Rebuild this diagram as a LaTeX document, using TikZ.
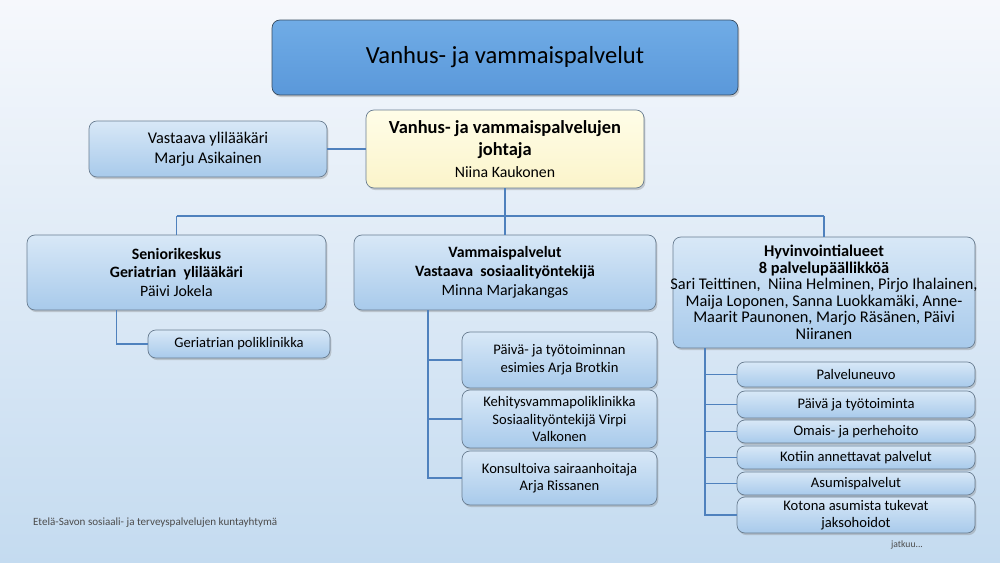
\documentclass[tikz,border=0pt]{standalone}
\usepackage{fontspec}
\setmainfont{Carlito}
\usetikzlibrary{positioning, shadows}
\definecolor{bgtop}{RGB}{246,248,252}
\definecolor{bgbot}{RGB}{196,219,240}
\definecolor{boxtop}{RGB}{216,232,247}
\definecolor{boxbot}{RGB}{168,202,235}
\definecolor{boxline}{RGB}{105,125,145}
\definecolor{titletop}{RGB}{112,172,230}
\definecolor{titlebot}{RGB}{90,152,218}
\definecolor{titleline}{RGB}{55,75,95}
\definecolor{headtop}{RGB}{255,253,232}
\definecolor{headbot}{RGB}{251,244,202}
\definecolor{cline}{RGB}{79,129,189}

\begin{document}
\begin{tikzpicture}[
    x=0.02cm, y=-0.02cm,
    unit/.style={draw=boxline, rounded corners=4.5pt, top color=boxtop, bottom color=boxbot,
        drop shadow={shadow xshift=0.8pt, shadow yshift=-1.2pt, opacity=0.35},
        align=center, inner sep=1pt, text=black},
    subunit/.style={unit, font=\fontsize{8.3}{10}\selectfont},
    link/.style={draw=cline, line width=1.1pt},
]
    % Background
    \useasboundingbox (0,0) rectangle (1000,563);
    \shade[top color=bgtop, bottom color=bgbot] (0,0) rectangle (1000,563);

    % Top level
    \node[unit, top color=titletop, bottom color=titlebot, draw=titleline,
        minimum width=9.32cm, minimum height=1.5cm, font=\fontsize{14}{17}\selectfont]
        (title) at (505,57.5) {Vanhus- ja vammaispalvelut};

    \node[unit, minimum width=4.76cm, minimum height=1.12cm, font=\fontsize{9.3}{11.2}\selectfont]
        (ylilaakari) at (208,149) {Vastaava ylilääkäri\\Marju Asikainen};

    \node[unit, top color=headtop, bottom color=headbot, minimum width=5.56cm, minimum height=1.56cm,
        font=\fontsize{10.5}{12.4}\selectfont]
        (johtaja) at (505,149) {\textbf{Vanhus- ja vammaispalvelujen}\\\textbf{johtaja}\\{\fontsize{9}{11}\selectfont Niina Kaukonen}};

    % Units
    \node[unit, minimum width=5.98cm, minimum height=1.5cm, font=\fontsize{9}{10.8}\selectfont]
        (senior) at (176.5,272.5) {\textbf{Seniorikeskus}\\\textbf{Geriatrian\ \ ylilääkäri}\\Päivi Jokela};

    \node[unit, minimum width=6.04cm, minimum height=1.5cm, font=\fontsize{9}{10.8}\selectfont]
        (vammais) at (505,272.5) {\textbf{Vammaispalvelut}\\\textbf{Vastaava\ \ sosiaalityöntekijä}\\Minna Marjakangas};

    \node[unit, minimum width=6.04cm, minimum height=2.22cm] (hyvin) at (824,292.5) {};
    \node[align=center, inner sep=0pt, font=\fontsize{9.3}{9.4}\selectfont]
        (hyvintext) at (hyvin) {\textbf{Hyvinvointialueet}\\\textbf{8 palvelupäällikköä}\\Sari Teittinen,\ \ Niina Helminen, Pirjo Ihalainen,\\Maija Loponen, Sanna Luokkamäki, Anne-\\Maarit Paunonen, Marjo Räsänen, Päivi\\Niiranen};

    % Sub units
    \node[subunit, minimum width=3.64cm, minimum height=0.56cm] (geripoli) at (239,344) {Geriatrian poliklinikka};

    \node[subunit, minimum width=3.9cm, minimum height=1.12cm] (paiva) at (559.5,360) {Päivä- ja työtoiminnan\\esimies Arja Brotkin};
    \node[subunit, minimum width=3.9cm, minimum height=1.16cm] (kehitys) at (559.5,419) {Kehitysvammapoliklinikka\\Sosiaalityöntekijä Virpi\\Valkonen};
    \node[subunit, minimum width=3.9cm, minimum height=1.08cm] (konsult) at (559.5,478) {Konsultoiva sairaanhoitaja\\Arja Rissanen};

    \node[subunit, minimum width=4.76cm, minimum height=0.5cm] (neuvo) at (856,374.5) {Palveluneuvo};
    \node[subunit, minimum width=4.76cm, minimum height=0.54cm] (tyo) at (856,404.5) {Päivä ja työtoiminta};
    \node[subunit, minimum width=4.76cm, minimum height=0.46cm] (omais) at (856,431.5) {Omais- ja perhehoito};
    \node[subunit, minimum width=4.76cm, minimum height=0.46cm] (kotiin) at (856,457.5) {Kotiin annettavat palvelut};
    \node[subunit, minimum width=4.76cm, minimum height=0.46cm] (asumis) at (856,483.5) {Asumispalvelut};
    \node[subunit, minimum width=4.76cm, minimum height=0.72cm] (jakso) at (856,515) {Kotona asumista tukevat\\jaksohoidot};

    % Connectors
    \coordinate (busL) at (176.5,216);
    \coordinate (busR) at (824,216);
    \draw[link] (ylilaakari.east) -- (johtaja.west);
    \draw[link] (busL) -- (busR);
    \draw[link] (johtaja.south) -- (vammais.north);
    \draw[link] (busL) -- (senior.north);
    \draw[link] (busR) -- (hyvin.north);

    \draw[link] (senior.south) ++(-60,0) |- (geripoli.west);

    \foreach \n in {paiva, kehitys, konsult}
        \draw[link] (vammais.south) ++(-77,0) |- (\n.west);

    \foreach \n in {neuvo, tyo, omais, kotiin, asumis, jakso}
        \draw[link] (hyvin.south) ++(-119,0) |- (\n.west);

    % Footer
    \node[anchor=west, text=black!70, font=\fontsize{6.3}{7.5}\selectfont] (footer) at (27,523)
        {Etelä-Savon sosiaali- ja terveyspalvelujen kuntayhtymä};
    \node[text=black!70, font=\fontsize{5.5}{6.5}\selectfont] (jatkuu) at (907,545) {jatkuu...};
\end{tikzpicture}
\end{document}
